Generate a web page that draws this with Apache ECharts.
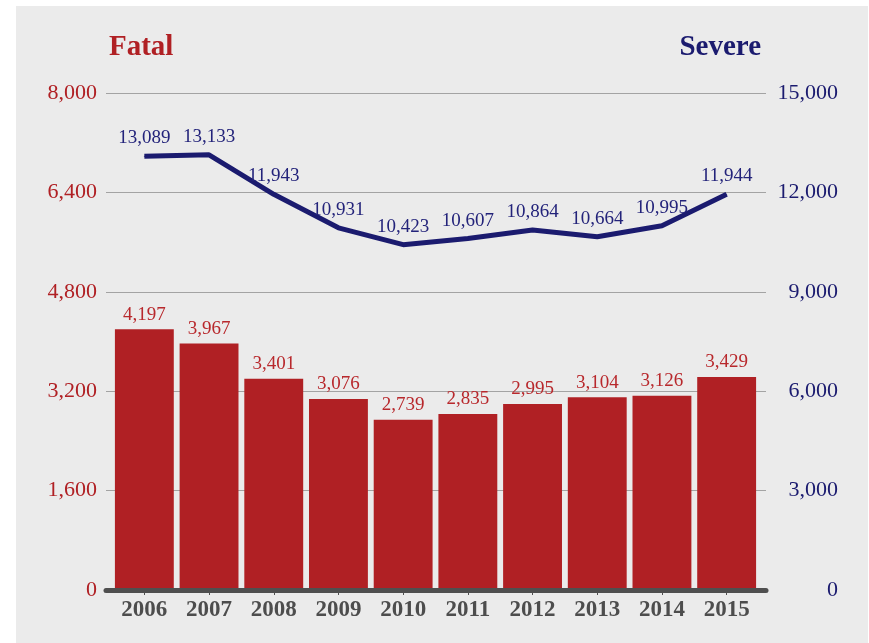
<!DOCTYPE html>
<html>
<head>
<meta charset="utf-8">
<script src="https://cdn.jsdelivr.net/npm/echarts@6/dist/echarts.min.js"></script>
<style>
html,body{margin:0;padding:0;background:#fff;}
#c{width:869px;height:643px;}
</style>
</head>
<body>
<div id="c"></div>
<script>
const years = ['2006','2007','2008','2009','2010','2011','2012','2013','2014','2015'];
const fatal = [4197,3967,3401,3076,2739,2835,2995,3104,3126,3429];
const severe = [13089,13133,11943,10931,10423,10607,10864,10664,10995,11944];
const fatalTicks = {min:0, max:8000, interval:1600};
const severeTicks = {min:0, max:15000, interval:3000};

const RED = '#b02024';
const NAVY = '#1b1b6f';
const FONT = '"Liberation Serif","Times New Roman",serif';
const fmt = v => v.toLocaleString('en-US');

const chart = echarts.init(document.getElementById('c'));
chart.setOption({
  backgroundColor: '#ffffff',
  animation: false,
  graphic: [{type:'rect', shape:{x:16,y:6,width:852,height:637}, style:{fill:'#ebebeb'}, z:-10}],
  title: [
    {text:'Fatal', left:104, top:28, textStyle:{fontFamily:FONT, fontWeight:'bold', fontSize:29, color:RED}},
    {text:'Severe', right:103, top:28, textStyle:{fontFamily:FONT, fontWeight:'bold', fontSize:29, color:NAVY}}
  ],
  grid: [
    {left:112, width:647, top:93, bottom:53},
    {left:106, right:103, top:93, bottom:53}
  ],
  xAxis: [
    {type:'category', data:years, gridIndex:0,
     axisLine:{show:false},
     axisTick:{show:true, alignWithLabel:true, length:5, lineStyle:{color:'#4f4f4f', width:1}},
     axisLabel:{margin:9, fontFamily:FONT, fontWeight:'bold', fontSize:23, color:'#4d4d4d'}},
    {type:'category', data:years, gridIndex:1, z:5,
     axisLine:{show:true, lineStyle:{color:'#4f4f4f', width:5, cap:'round'}},
     axisTick:{show:false}, axisLabel:{show:false}}
  ],
  yAxis: [
    {type:'value', gridIndex:0, min:fatalTicks.min, max:fatalTicks.max, interval:fatalTicks.interval,
     axisLine:{show:false}, axisTick:{show:false}, splitLine:{show:false},
     axisLabel:{margin:15, fontFamily:FONT, fontSize:22, color:RED, formatter:fmt}},
    {type:'value', gridIndex:0, position:'right', min:severeTicks.min, max:severeTicks.max, interval:severeTicks.interval,
     axisLine:{show:false}, axisTick:{show:false}, splitLine:{show:false},
     axisLabel:{margin:79, align:'right', fontFamily:FONT, fontSize:22, color:NAVY, formatter:fmt}},
    {type:'value', gridIndex:1, min:fatalTicks.min, max:fatalTicks.max, interval:fatalTicks.interval,
     axisLine:{show:false}, axisTick:{show:false}, axisLabel:{show:false},
     splitLine:{show:true, lineStyle:{color:'#a3a3a3', width:1}}}
  ],
  series: [
    {type:'bar', xAxisIndex:0, yAxisIndex:0, data:fatal, barCategoryGap:'9%',
     itemStyle:{color:RED},
     label:{show:true, position:'top', distance:5, fontFamily:FONT, fontSize:19, color:'#b8282c', formatter:p=>fmt(p.value)}},
    {type:'line', xAxisIndex:0, yAxisIndex:1, data:severe, symbol:'circle', symbolSize:1, showSymbol:true, z:4,
     itemStyle:{color:NAVY},
     lineStyle:{color:NAVY, width:5},
     label:{show:true, position:'top', distance:8, fontFamily:FONT, fontSize:19, color:'#23237a', formatter:p=>fmt(p.value)}}
  ]
});
</script>
</body>
</html>
